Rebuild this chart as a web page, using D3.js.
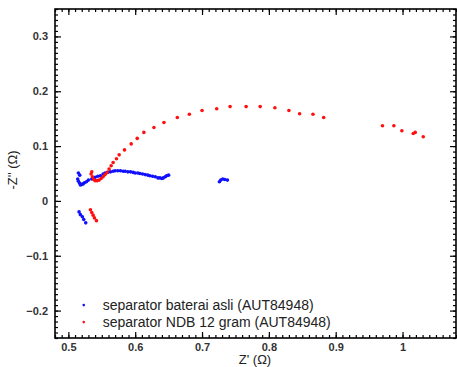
<!DOCTYPE html>
<meta charset="utf-8">
<head>
<style>
  body { margin: 0; background: #fff; }
  text { font-family: Arial, "Liberation Sans", sans-serif; }
</style>
</head>
<body>
<script src="https://d3js.org/d3.v7.min.js"></script>
<div id="chart"></div>
<script>

// series: separator baterai asli (blue)
var asliX = [0.516, 0.518, 0.521, 0.523, 0.526,
  0.515, 0.517, 0.514, 0.515, 0.517, 0.518, 0.520, 0.522, 0.524, 0.527, 0.530, 0.535,
  0.540, 0.544, 0.548, 0.552, 0.555, 0.559, 0.563, 0.567, 0.570, 0.574, 0.578, 0.582,
  0.585, 0.589, 0.593, 0.597, 0.600, 0.604, 0.607, 0.611, 0.615, 0.619, 0.622, 0.626,
  0.630, 0.634, 0.637, 0.640, 0.642, 0.645, 0.647, 0.650,
  0.726, 0.728, 0.731, 0.734, 0.738];
var asliY = [-0.020, -0.025, -0.029, -0.034, -0.040,
  0.051, 0.047, 0.040, 0.036, 0.032, 0.029, 0.030, 0.031, 0.033, 0.035, 0.038, 0.040,
  0.043, 0.045, 0.046, 0.049, 0.051, 0.052, 0.053, 0.054, 0.055, 0.055, 0.055, 0.054,
  0.054, 0.053, 0.053, 0.052, 0.051, 0.051, 0.050, 0.049, 0.048, 0.047, 0.046, 0.045,
  0.044, 0.042, 0.042, 0.041, 0.042, 0.044, 0.046, 0.047,
  0.035, 0.038, 0.040, 0.039, 0.038];

// series: separator NDB 12 gram (red)
var ndbX = [0.533, 0.535, 0.537, 0.539, 0.542,
  0.535, 0.534, 0.536, 0.538, 0.540, 0.543, 0.546, 0.549, 0.552, 0.555, 0.558, 0.561,
  0.564, 0.567, 0.572, 0.576, 0.584, 0.594, 0.603, 0.613, 0.628, 0.643, 0.663, 0.681,
  0.700, 0.722, 0.742, 0.766, 0.787, 0.809, 0.830, 0.846, 0.866, 0.882,
  0.970, 0.987, 0.999, 1.016, 1.019, 1.031];
var ndbY = [-0.016, -0.021, -0.026, -0.031, -0.036,
  0.053, 0.049, 0.044, 0.039, 0.037, 0.037, 0.038, 0.041, 0.044, 0.048, 0.052, 0.058,
  0.064, 0.070, 0.077, 0.084, 0.093, 0.104, 0.114, 0.125, 0.134, 0.143, 0.152, 0.158,
  0.165, 0.168, 0.172, 0.172, 0.172, 0.170, 0.165, 0.159, 0.158, 0.152,
  0.137, 0.137, 0.128, 0.123, 0.125, 0.117];

var xTicks = [0.5, 0.6, 0.7, 0.8, 0.9, 1];
var yTicks = [-0.2, -0.1, 0, 0.1, 0.2, 0.3];
var seriesNames = ["separator baterai asli (AUT84948)", "separator NDB 12 gram (AUT84948)"];
var seriesColors = ["#1010ff", "#ff1010"];

var W = 457, H = 367;
var margin = {top: 9, right: 1, bottom: 29, left: 55},
    width = W - margin.left - margin.right,
    height = H - margin.top - margin.bottom;

var svg = d3.select("#chart").append("svg")
  .attr("width", W)
  .attr("height", H);

var g = svg.append("g")
  .attr("transform", "translate(" + margin.left + "," + margin.top + ")");

var x = d3.scaleLinear().domain([0.48, 1.08]).range([0, width]);
var y = d3.scaleLinear().domain([-0.25, 0.35]).range([height, 0]);

var fmt = function(d) { return d3.format("")(+d.toFixed(2)); };

// minor ticks, every 0.01
var xMinor = d3.range(0.48, 1.0801, 0.01);
var yMinor = d3.range(-0.25, 0.3501, 0.01);

function tickStyle(sel) {
  sel.select(".domain").remove();
  sel.selectAll("line").attr("stroke", "#000").attr("stroke-width", 1.2);
  sel.selectAll("text").attr("fill", "#333").style("font-size", "11px").style("font-weight", "bold");
}

// bottom
g.append("g").attr("transform", "translate(0," + height + ")")
  .call(d3.axisBottom(x).tickValues(xTicks).tickSize(-6).tickPadding(5).tickFormat(fmt))
  .call(tickStyle);
g.append("g").attr("transform", "translate(0," + height + ")")
  .call(d3.axisBottom(x).tickValues(xMinor).tickSize(-3).tickFormat(""))
  .call(tickStyle);
// top
g.append("g")
  .call(d3.axisTop(x).tickValues(xTicks).tickSize(-6).tickFormat(""))
  .call(tickStyle);
g.append("g")
  .call(d3.axisTop(x).tickValues(xMinor).tickSize(-3).tickFormat(""))
  .call(tickStyle);
// left
g.append("g")
  .call(d3.axisLeft(y).tickValues(yTicks).tickSize(-6).tickPadding(7).tickFormat(fmt))
  .call(tickStyle);
g.append("g")
  .call(d3.axisLeft(y).tickValues(yMinor).tickSize(-3).tickFormat(""))
  .call(tickStyle);
// right
g.append("g").attr("transform", "translate(" + width + ",0)")
  .call(d3.axisRight(y).tickValues(yTicks).tickSize(-6).tickFormat(""))
  .call(tickStyle);
g.append("g").attr("transform", "translate(" + width + ",0)")
  .call(d3.axisRight(y).tickValues(yMinor).tickSize(-3).tickFormat(""))
  .call(tickStyle);

// frame
g.append("rect")
  .attr("width", width).attr("height", height)
  .attr("fill", "none").attr("stroke", "#000").attr("stroke-width", 1.6);

// points
var series = [
  {x: asliX, y: asliY, color: seriesColors[0]},
  {x: ndbX, y: ndbY, color: seriesColors[1]}
];
series.forEach(function(s) {
  g.selectAll(null)
    .data(d3.range(s.x.length))
    .enter().append("circle")
    .attr("cx", function(i) { return x(s.x[i]); })
    .attr("cy", function(i) { return y(s.y[i]); })
    .attr("r", 1.8)
    .attr("fill", s.color);
});

// legend
var legend = g.append("g").attr("transform", "translate(" + x(0.523) + "," + y(-0.19) + ")");
seriesNames.forEach(function(name, i) {
  var row = legend.append("g").attr("transform", "translate(0," + (i * 17) + ")");
  row.append("circle").attr("r", 1.3).attr("fill", seriesColors[i]);
  row.append("text").attr("x", 19).attr("y", 4.5)
    .style("font-size", "14px").attr("fill", "#222").text(name);
});

// axis titles
svg.append("text")
  .attr("x", 255)
  .attr("y", H - 3)
  .attr("text-anchor", "middle")
  .style("font-size", "13px").attr("fill", "#222")
  .text("Z' (\u03A9)");

svg.append("text")
  .attr("transform", "translate(17," + 170 + ") rotate(-90)")
  .attr("text-anchor", "middle")
  .style("font-size", "13px").attr("fill", "#222")
  .text("-Z'' (\u03A9)");

</script>
</body>
